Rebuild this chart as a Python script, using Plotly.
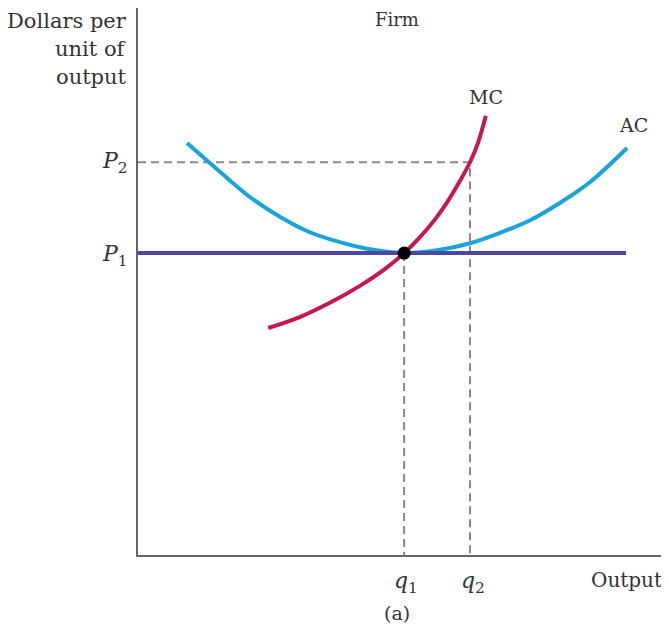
import plotly.graph_objects as go

# Data (economic units on 0-10 scales)
ac_x = [0.93, 1.56, 2.13, 2.70, 3.26, 3.83, 4.40, 5.05, 5.73, 6.30, 6.87, 7.44, 8.01, 8.58, 9.28]
ac_y = [7.53, 7.00, 6.54, 6.18, 5.90, 5.72, 5.59, 5.52, 5.58, 5.70, 5.89, 6.12, 6.44, 6.82, 7.44]
mc_x = [2.47, 3.07, 3.64, 4.21, 4.69, 5.05, 5.35, 5.64, 5.88, 6.11, 6.30, 6.45, 6.60]
mc_y = [4.15, 4.35, 4.61, 4.92, 5.23, 5.52, 5.81, 6.14, 6.47, 6.84, 7.18, 7.53, 8.03]
p1 = 5.52
p2 = 7.18
q1 = 5.05
q2 = 6.30
p1_line_x = [0, 9.26]

# page is offset by the 8px body margin
OFF = 8
W, H = 669 - OFF, 633 - OFF
PL, PT, PR, PB = 138, 8, 665, 555   # plot area in page pixels
L, T = PL - OFF, PT - OFF
R = W - (PR - OFF)
B = H - (PB - OFF)
pw, ph = PR - PL, PB - PT

def px(xp):
    return (xp - PL) / pw

def py(yp):
    return (PB - yp) / ph

FONT = "DejaVu Serif"
TXT = "#333333"

fig = go.Figure()

dash = dict(color="#8a8a8a", width=2, dash="8px,5px")
fig.add_trace(go.Scatter(x=[0, q2, q2], y=[p2, p2, 0], mode="lines", line=dash, hoverinfo="skip"))
fig.add_trace(go.Scatter(x=[q1, q1], y=[p1, 0], mode="lines", line=dash, hoverinfo="skip"))

fig.add_trace(go.Scatter(x=ac_x, y=ac_y, mode="lines", line_shape="spline",
                         line=dict(color="#1aa3dc", width=4, smoothing=1.0)))
fig.add_trace(go.Scatter(x=p1_line_x, y=[p1, p1], mode="lines",
                         line=dict(color="#4a48a0", width=4)))
fig.add_trace(go.Scatter(x=mc_x, y=mc_y, mode="lines", line_shape="spline",
                         line=dict(color="#c8174f", width=4, smoothing=1.0)))
fig.add_trace(go.Scatter(x=[q1], y=[p1], mode="markers",
                         marker=dict(color="black", size=13)))

ann = []
def add(text, xp, yp, xanchor="center", yanchor="middle", size=19, align="center"):
    ann.append(dict(text=text, x=px(xp), y=py(yp), xref="paper", yref="paper",
                    xanchor=xanchor, yanchor=yanchor, showarrow=False, align=align,
                    font=dict(family=FONT, size=size, color=TXT)))

add("Dollars per", 129, 21, xanchor="right", size=21)
add("unit of", 129, 49, xanchor="right", size=21)
add("output", 129, 77, xanchor="right", size=21)
add("Firm", 397, 20, size=18)
add("MC", 486, 97, size=19)
add("AC", 633, 125, size=19)
add("<i>P</i><sub>2</sub>", 115, 163, size=22)
add("<i>P</i><sub>1</sub>", 115, 255, size=22)
add("<i>q</i><sub>1</sub>", 406, 582, size=22)
add("<i>q</i><sub>2</sub>", 473, 582, size=22)
add("Output", 626, 580, size=20)
add("(a)", 397, 613, size=19)

fig.update_layout(
    width=W, height=H, margin=dict(l=L, r=R, t=T, b=B),
    plot_bgcolor="white", paper_bgcolor="white", showlegend=False,
    annotations=ann,
    xaxis=dict(range=[0, 10], showline=True, linecolor="#666666", linewidth=2,
               showgrid=False, zeroline=False, showticklabels=False, ticks=""),
    yaxis=dict(range=[0, 10], showline=True, linecolor="#666666", linewidth=2,
               showgrid=False, zeroline=False, showticklabels=False, ticks=""),
)

fig.write_html("out.html")
